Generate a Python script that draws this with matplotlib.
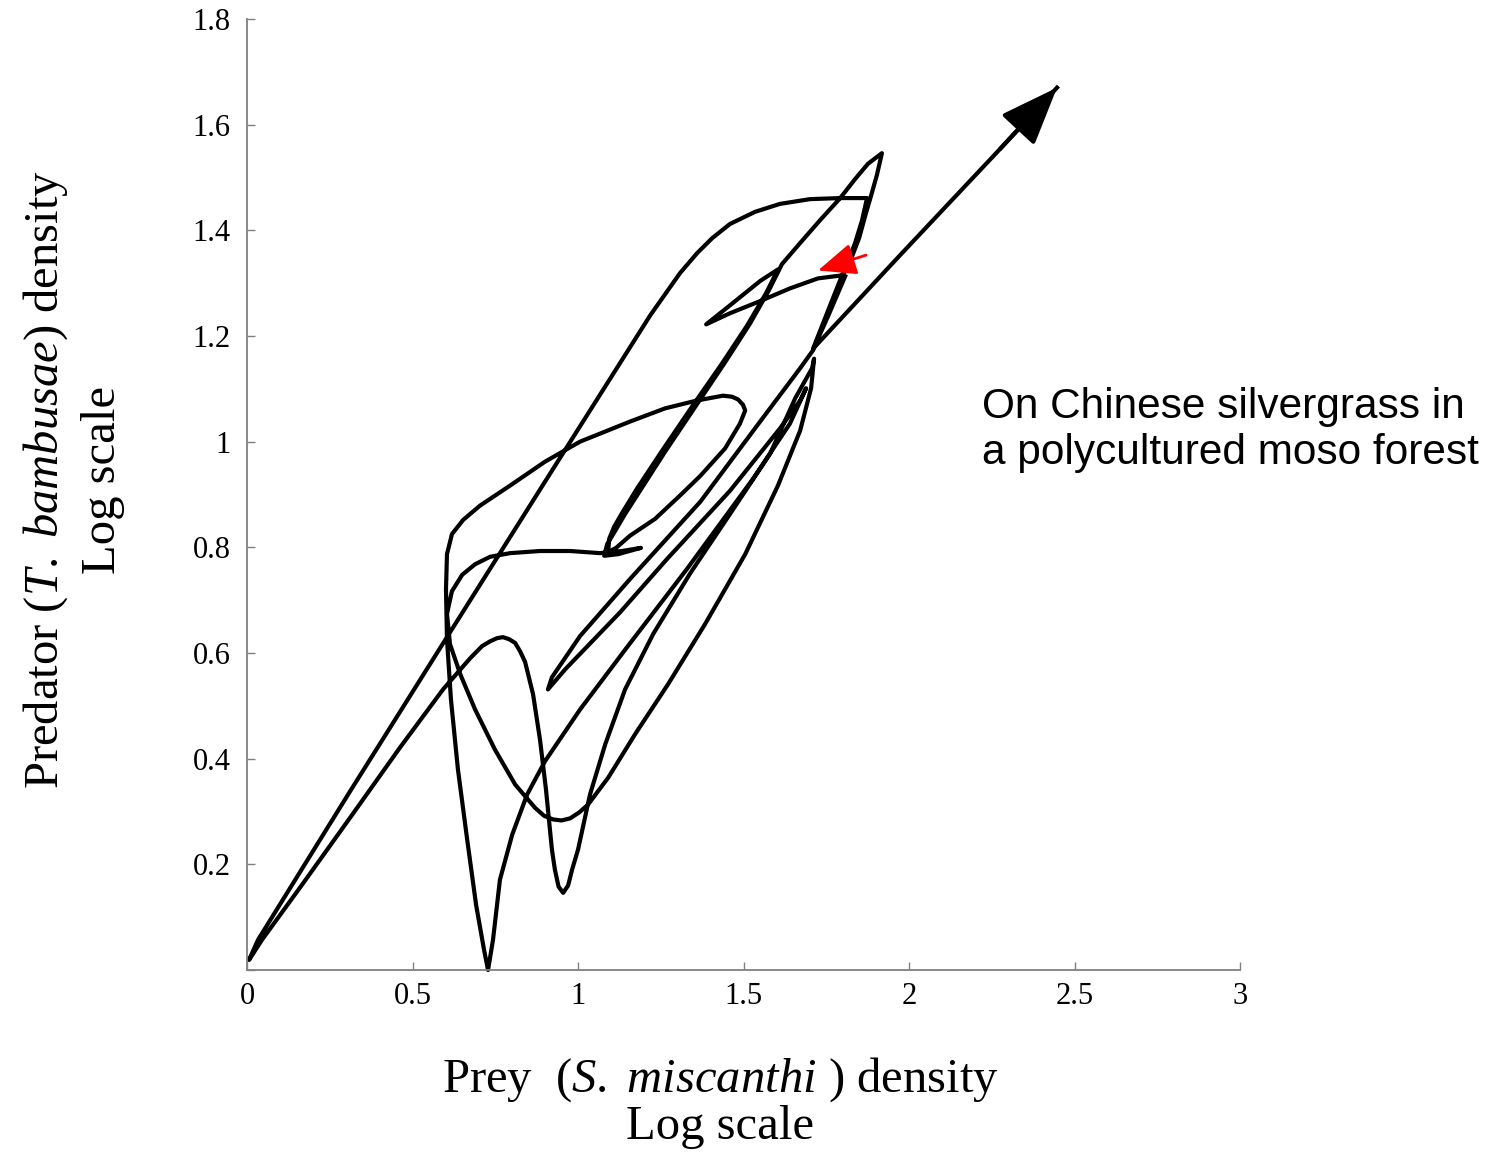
import numpy as np
import matplotlib.pyplot as plt

plt.rcParams['font.family'] = 'Liberation Serif'
plt.rcParams['mathtext.fontset'] = 'custom'
plt.rcParams['mathtext.rm'] = 'Liberation Serif'
plt.rcParams['mathtext.it'] = 'Liberation Serif:italic'

# trajectory, in order (log prey density, log predator density)
# start (red arrow) -> down to the knot
prey_start = [1.807, 1.785, 1.755, 1.725, 1.710]
pred_start = [1.313, 1.281, 1.237, 1.195, 1.173]

# knot -> narrow cusp near (0.9, 0.53) -> back up
prey_cusp = [1.671, 1.550, 1.369, 1.157, 1.006, 0.921, 0.909, 0.961, 1.127, 1.269, 1.459, 1.610, 1.671, 1.689]
pred_cusp = [1.139, 1.038, 0.886, 0.740, 0.632, 0.554, 0.531, 0.569, 0.677, 0.778, 0.907, 1.025, 1.078, 1.101]

# V touching the x axis, then the hump near 1.08
prey_v = [1.640, 1.529, 1.329, 1.148, 1.006, 0.900, 0.846, 0.801, 0.764, 0.743, 0.728, 0.716, 0.692,
          0.665, 0.637, 0.616, 0.604, 0.601, 0.604, 0.619, 0.653, 0.704, 0.795, 0.900, 1.006, 1.157,
          1.263, 1.360, 1.438, 1.465, 1.483, 1.498, 1.505, 1.489, 1.444, 1.369, 1.308, 1.233, 1.157,
          1.115, 1.091, 1.094]
pred_v = [1.034, 0.930, 0.759, 0.611, 0.493, 0.395, 0.332, 0.256, 0.171, 0.057, 0.000, 0.038, 0.123,
          0.247, 0.380, 0.512, 0.626, 0.721, 0.787, 0.825, 0.852, 0.879, 0.917, 0.962, 1.000, 1.038,
          1.063, 1.078, 1.087, 1.085, 1.080, 1.070, 1.059, 1.034, 0.987, 0.935, 0.898, 0.854, 0.822,
          0.799, 0.791, 0.816]

# long diagonal up, small Z loop, back to the start point
prey_z = [1.109, 1.133, 1.178, 1.254, 1.344, 1.435, 1.511, 1.568, 1.604, 1.550, 1.459, 1.387,
          1.459, 1.550, 1.640, 1.725, 1.801]
pred_z = [0.839, 0.865, 0.911, 0.983, 1.066, 1.148, 1.220, 1.281, 1.326, 1.304, 1.258, 1.222,
          1.243, 1.266, 1.290, 1.309, 1.315]

# up to the peak, down the diagonal, flat part at 0.8, U with bottom near 0.28
prey_u = [1.828, 1.849, 1.870, 1.885, 1.903, 1.918, 1.876, 1.837, 1.792, 1.731, 1.671, 1.616,
          1.577, 1.520, 1.444, 1.353, 1.263, 1.187, 1.142, 1.112, 1.088, 1.079, 1.121, 1.190,
          1.133, 1.066, 0.976, 0.885, 0.795, 0.734, 0.689, 0.650, 0.619, 0.604, 0.613, 0.644,
          0.689, 0.749, 0.810, 0.870, 0.897, 0.924, 0.950, 0.976, 1.003, 1.030, 1.091, 1.172,
          1.272, 1.384, 1.505, 1.604, 1.671, 1.704, 1.713]
pred_u = [1.351, 1.385, 1.433, 1.465, 1.505, 1.546, 1.526, 1.497, 1.461, 1.419, 1.376, 1.336,
          1.287, 1.224, 1.150, 1.065, 0.981, 0.907, 0.863, 0.831, 0.806, 0.784, 0.787, 0.799,
          0.793, 0.789, 0.793, 0.793, 0.789, 0.782, 0.768, 0.748, 0.717, 0.674, 0.617, 0.560,
          0.493, 0.417, 0.351, 0.307, 0.292, 0.285, 0.283, 0.287, 0.298, 0.313, 0.364, 0.446,
          0.541, 0.655, 0.787, 0.917, 1.021, 1.101, 1.157]

# knot -> dip near 0.15 -> hump near 0.63 -> origin
prey_dip = [1.707, 1.656, 1.580, 1.459, 1.338, 1.227, 1.142, 1.082, 1.036, 1.000, 0.982, 0.970,
            0.955, 0.941, 0.930, 0.921, 0.903, 0.885, 0.864, 0.840, 0.825, 0.810, 0.792, 0.773,
            0.755, 0.734, 0.710, 0.674, 0.592, 0.462, 0.311, 0.160, 0.045, 0.006]
pred_dip = [1.139, 1.082, 0.977, 0.863, 0.750, 0.636, 0.531, 0.427, 0.332, 0.228, 0.190, 0.160,
            0.146, 0.158, 0.190, 0.228, 0.342, 0.436, 0.522, 0.583, 0.603, 0.619, 0.626, 0.630,
            0.628, 0.622, 0.613, 0.590, 0.531, 0.421, 0.288, 0.156, 0.057, 0.019]

# origin -> big outer loop -> knot -> escape (arrow)
prey_out = [0.033, 0.311, 0.613, 0.915, 1.218, 1.308, 1.360, 1.405, 1.459, 1.535, 1.610, 1.701,
            1.792, 1.873, 1.858, 1.837, 1.813, 1.792, 1.764, 1.734, 1.710, 1.973, 2.275, 2.447]
pred_out = [0.057, 0.338, 0.639, 0.939, 1.239, 1.319, 1.357, 1.385, 1.412, 1.435, 1.450, 1.459,
            1.461, 1.461, 1.419, 1.376, 1.338, 1.306, 1.262, 1.214, 1.176, 1.353, 1.554, 1.670]

prey = np.concatenate([prey_start, prey_cusp, prey_v, prey_z, prey_u, prey_dip, prey_out])
pred = np.concatenate([pred_start, pred_cusp, pred_v, pred_z, pred_u, pred_dip, pred_out])

red_tail = (1.870, 1.353)
red_tip = (1.725, 1.324)

xticks = [0, 0.5, 1, 1.5, 2, 2.5, 3]
xticklabels = ['0', '0.5', '1', '1.5', '2', '2.5', '3']
yticks = [0, 0.2, 0.4, 0.6, 0.8, 1.0, 1.2, 1.4, 1.6, 1.8]
yticklabels = ['', '0.2', '0.4', '0.6', '0.8', '1', '1.2', '1.4', '1.6', '1.8']

fig = plt.figure(figsize=(14.91, 11.56), dpi=100)
ax = fig.add_axes([0.1657, 0.1609, 0.6660, 0.8227])

ax.plot(prey, pred, color='black', lw=3, solid_joinstyle='round', clip_on=False)
ax.annotate('', xy=(prey[-1], pred[-1]), xytext=(prey[-2], pred[-2]),
            arrowprops=dict(arrowstyle='-|>,head_length=1.8,head_width=0.7', mutation_scale=20,
                            color='black', lw=3, shrinkA=0, shrinkB=0))
ax.annotate('', xy=red_tip, xytext=red_tail,
            arrowprops=dict(arrowstyle='-|>,head_length=1.3,head_width=0.55', mutation_scale=18,
                            color='red', lw=2, shrinkA=0, shrinkB=0))

ax.set_xlim(0, 3)
ax.set_ylim(0, 1.8)
ax.set_xticks(xticks)
ax.set_xticklabels(xticklabels)
ax.set_yticks(yticks)
ax.set_yticklabels(yticklabels)
ax.tick_params(direction='in', length=6, width=1, color='#808080', labelsize=22)
ax.tick_params(axis='y', pad=12)
ax.tick_params(axis='x', pad=9)
for s in ['top', 'right']:
    ax.spines[s].set_visible(False)
for s in ['left', 'bottom']:
    ax.spines[s].set_color('#808080')
    ax.spines[s].set_linewidth(1.3)

fig.text(0.483, 0.0874, 'Prey  ($\\it{S.\\ miscanthi}$ ) density\nLog scale',
         ha='center', va='top', fontsize=35, linespacing=1.05, multialignment='center')
fig.text(0.049, 0.585, 'Predator ($\\it{T.\\ bambusae}$) density\nLog scale',
         ha='center', va='center', rotation=90, fontsize=35, linespacing=1.3,
         multialignment='center')
fig.text(0.6586, 0.665, 'On Chinese silvergrass in\na polycultured moso forest',
         family='Liberation Sans', fontsize=30.5, ha='left', va='top')

fig.savefig('out.png', dpi=100)
